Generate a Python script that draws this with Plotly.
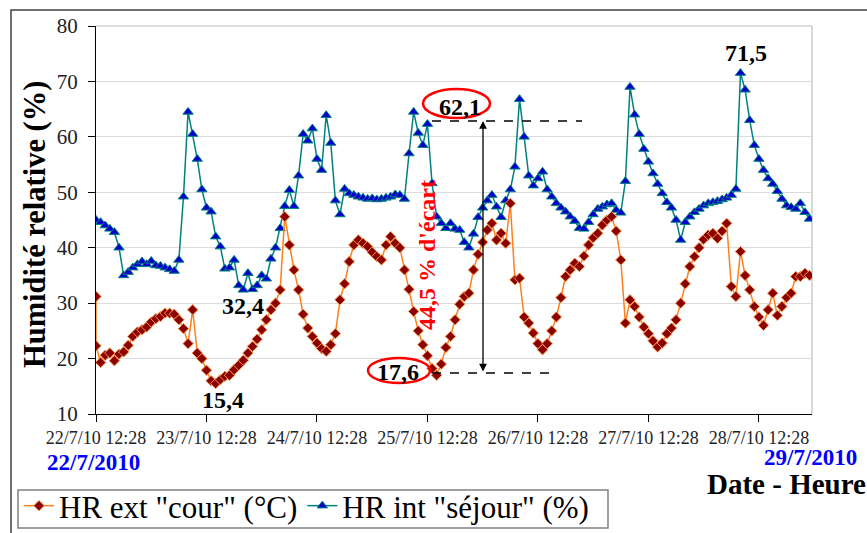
import pandas as pd
import plotly.graph_objects as go

START = "2010-07-22 12:28"
END = "2010-07-29 00:00"

# Interior relative humidity "séjour" (%), hourly from 22/7/10 12:28
hr_int = [
    45.0, 44.6, 44.0, 43.4, 42.8, 40.0, 35.0, 35.6, 36.4, 37.0,
    37.5, 37.0, 37.6, 36.8, 36.7, 36.4, 36.1, 35.8, 37.8, 49.2,
    64.5, 60.5, 56.0, 50.5, 47.2, 46.5, 42.0, 40.2, 36.2, 36.4,
    37.8, 33.2, 32.4, 35.4, 32.5, 33.2, 35.0, 34.4, 38.0, 40.0,
    43.5, 47.5, 50.4, 47.5, 53.0, 60.5, 59.3, 61.5, 56.0, 54.0,
    63.9, 58.9, 48.5, 46.0, 50.6, 49.8, 49.5, 49.2, 49.0, 48.8,
    48.9, 48.7, 48.8, 49.0, 49.2, 49.6, 49.5, 48.8, 57.0, 64.5,
    60.7, 58.5, 62.3, 51.6, 45.6, 44.4, 43.5, 44.4, 43.4, 43.2,
    41.0, 40.0, 42.5, 45.5, 47.2, 48.5, 49.5, 47.4, 45.5, 48.5,
    50.5, 54.6, 66.8, 60.0, 53.0, 51.2, 52.5, 53.7, 50.5, 49.2,
    48.0, 47.2, 46.5, 45.6, 44.8, 43.5, 43.4, 44.6, 46.0, 47.0,
    47.4, 47.8, 48.0, 46.8, 46.3, 52.0, 69.0, 64.0, 60.5, 57.8,
    55.5, 53.4, 51.5, 49.8, 48.2, 47.2, 45.0, 41.4, 44.6, 45.6,
    46.4, 47.0, 47.6, 48.0, 48.2, 48.4, 48.7, 49.0, 49.5, 50.6,
    71.5, 68.5, 63.0, 58.5, 56.0, 54.0, 52.5, 51.5, 50.2, 48.8,
    47.6, 47.3, 47.0, 48.0, 46.4, 45.2,
]

# Exterior relative humidity "cour", hourly from 22/7/10 12:28
hr_ext_first = 31.2
hr_ext = [
    22.3, 19.3, 20.6, 21.0, 19.6, 20.8, 21.2, 22.4, 24.0, 24.8,
    25.2, 25.7, 26.6, 27.2, 27.6, 28.2, 28.2, 28.0, 27.0, 25.4,
    22.7, 28.8, 21.0, 20.0, 17.9, 16.0, 15.5, 16.2, 16.8, 17.0,
    18.0, 18.8, 19.7, 21.0, 22.2, 23.5, 25.2, 27.0, 28.8, 30.0,
    32.4, 45.6, 40.5, 36.0, 32.4, 28.0, 25.5, 24.0, 22.8, 21.8,
    21.3, 22.5, 24.5, 30.6, 33.5, 37.5, 40.5, 41.4, 40.8, 40.2,
    39.2, 38.4, 37.8, 40.5, 42.0, 40.8, 40.0, 36.0, 32.5, 28.5,
    25.0, 22.5, 20.5, 18.2, 17.0, 19.0, 22.0, 24.0, 27.0, 29.8,
    31.2, 31.8, 36.0, 38.8, 41.0, 43.2, 44.4, 41.4, 42.6, 40.8,
    48.0, 34.2, 34.5, 27.5, 26.4, 24.6, 22.7, 21.6, 22.7, 25.0,
    27.5, 31.0, 34.8, 36.0, 37.2, 36.6, 38.5, 40.5, 41.8, 42.6,
    44.1, 45.0, 45.6, 43.0, 37.8, 26.4, 30.6, 29.4, 27.5, 25.7,
    24.5, 23.2, 22.1, 22.8, 24.5, 25.5, 27.0, 30.0, 33.5, 36.6,
    38.4, 40.0, 41.5, 42.3, 42.6, 41.7, 43.0, 44.4, 33.0, 31.2,
    39.3, 35.0, 32.4, 29.4, 27.5, 26.0, 28.8, 31.8, 27.8, 29.4,
    31.0, 31.8, 34.8, 34.8, 35.4, 35.0,
]

tick_labels = ["22/7/10 12:28", "23/7/10 12:28", "24/7/10 12:28", "25/7/10 12:28",
               "26/7/10 12:28", "27/7/10 12:28", "28/7/10 12:28"]

name_ext = 'HR ext "cour" (°C)'
name_int = 'HR int "séjour" (%)'

times = pd.date_range(START, periods=len(hr_int), freq="h")
times_ext = [times[0]] + list(times)
vals_ext = [hr_ext_first] + hr_ext
tickvals = pd.date_range(START, periods=len(tick_labels), freq="D")

FONT = "Liberation Serif"
W, H = 867, 533
L, R, T, B = 96, 812, 26, 414


def fx(p):
    return (p - L) / (R - L)


def fy(p):
    return (B - p) / (B - T)


fig = go.Figure()
fig.add_trace(go.Scatter(
    x=times, y=hr_int, mode="lines+markers", name=name_int, legendrank=2,
    line=dict(color="#008080", width=1.5),
    marker=dict(symbol="triangle-up", size=9, color="#0000CC",
                line=dict(color="#008080", width=1)),
))
fig.add_trace(go.Scatter(
    x=times_ext, y=vals_ext, mode="lines+markers", name=name_ext, legendrank=1,
    line=dict(color="#FF7F1E", width=1.5),
    marker=dict(symbol="diamond", size=8, color="#8B0000",
                line=dict(color="#F7964A", width=1)),
))

shapes = [
    dict(type="line", xref="paper", yref="paper", x0=0, x1=1, y0=1, y1=1,
         line=dict(color="#BFBFBF", width=1.2), layer="below"),
    dict(type="line", xref="paper", yref="paper", x0=1, x1=1, y0=0, y1=1,
         line=dict(color="#BFBFBF", width=1.2), layer="below"),
    # outer chart frame
    dict(type="rect", xref="paper", yref="paper", x0=fx(11), x1=fx(900),
         y0=fy(560), y1=fy(10), line=dict(color="#404040", width=1.5)),
    # legend frame
    dict(type="rect", xref="paper", yref="paper", x0=fx(18), x1=fx(608),
         y0=fy(528), y1=fy(490), line=dict(color="#808080", width=1.5)),
    dict(type="circle", xref="paper", yref="paper", x0=fx(423), x1=fx(490),
         y0=fy(118), y1=fy(89), line=dict(color="#FF0000", width=2.5)),
    dict(type="circle", xref="paper", yref="paper", x0=fx(368), x1=fx(430),
         y0=fy(383), y1=fy(358), line=dict(color="#FF0000", width=2.5)),
    dict(type="line", xref="paper", yref="paper", x0=fx(432), x1=fx(582),
         y0=fy(121), y1=fy(121), line=dict(color="black", width=1.3, dash="dash")),
    dict(type="line", xref="paper", yref="paper", x0=fx(432), x1=fx(555),
         y0=fy(373), y1=fy(373), line=dict(color="black", width=1.3, dash="dash")),
]

bold = dict(family=FONT, size=24, color="black")
annotations = [
    dict(text="<b>Humidité relative (%)</b>", x=fx(35), y=fy(225), textangle=-90,
         font=dict(family=FONT, size=30.5, color="black")),
    dict(text="<b>22/7/2010</b>", x=fx(93), y=fy(462),
         font=dict(family=FONT, size=23, color="#0000FF")),
    dict(text="<b>29/7/2010</b>", x=fx(810), y=fy(457),
         font=dict(family=FONT, size=23, color="#0000FF")),
    dict(text="<b>Date - Heure</b>", x=fx(705), y=fy(484), xanchor="left",
         font=dict(family=FONT, size=29, color="black")),
    dict(text="<b>71,5</b>", x=fx(746), y=fy(53), font=bold),
    dict(text="<b>32,4</b>", x=fx(243), y=fy(306), font=bold),
    dict(text="<b>15,4</b>", x=fx(223), y=fy(400), font=bold),
    dict(text="<b>62,1</b>", x=fx(460), y=fy(107), font=bold),
    dict(text="<b>17,6</b>", x=fx(398), y=fy(372), font=bold),
    dict(text="<b>44,5 % d'écart</b>", x=fx(427), y=fy(255), textangle=-90,
         font=dict(family=FONT, size=24, color="#FF0000")),
    dict(text="", x=fx(483), y=fy(121), ax=0, ay=373 - 121, showarrow=True,
         arrowside="end+start", arrowhead=2, arrowsize=1.2, arrowwidth=1.3,
         arrowcolor="black", standoff=0, startstandoff=0),
]
for a in annotations:
    a.setdefault("xref", "paper")
    a.setdefault("yref", "paper")
    a.setdefault("showarrow", False)
    a.setdefault("xanchor", "center")
    a.setdefault("yanchor", "middle")

fig.update_layout(
    width=W, height=H,
    margin=dict(l=L, r=W - R, t=T, b=H - B),
    paper_bgcolor="white", plot_bgcolor="white",
    font=dict(family=FONT, color="black"),
    showlegend=True,
    legend=dict(
        orientation="h", xref="container", yref="container",
        x=19 / W, y=1 - 479 / H, xanchor="left", yanchor="top",
        borderwidth=0, bgcolor="rgba(0,0,0,0)",
        font=dict(family=FONT, size=31, color="black"),
        itemwidth=30,
    ),
    xaxis=dict(
        type="date", range=[START, END],
        tickvals=tickvals, ticktext=tick_labels,
        ticks="outside", ticklen=7, tickcolor="black", tickwidth=1,
        showline=True, linecolor="black", linewidth=1,
        showgrid=False, zeroline=False,
        tickfont=dict(family=FONT, size=18, color="#222222"),
    ),
    yaxis=dict(
        range=[10, 80], dtick=10, tick0=10,
        ticks="outside", ticklen=7, tickcolor="black", tickwidth=1,
        showline=True, linecolor="black", linewidth=1,
        showgrid=True, gridcolor="#DCDCDC", gridwidth=1, zeroline=False,
        ticklabelstandoff=6,
        tickfont=dict(family=FONT, size=21, color="#222222"),
    ),
    shapes=shapes,
    annotations=annotations,
)

fig.write_html(
    "out.html",
    config={"displayModeBar": False},
    post_script="document.body.style.margin='0px';document.body.style.overflow='hidden';",
)
